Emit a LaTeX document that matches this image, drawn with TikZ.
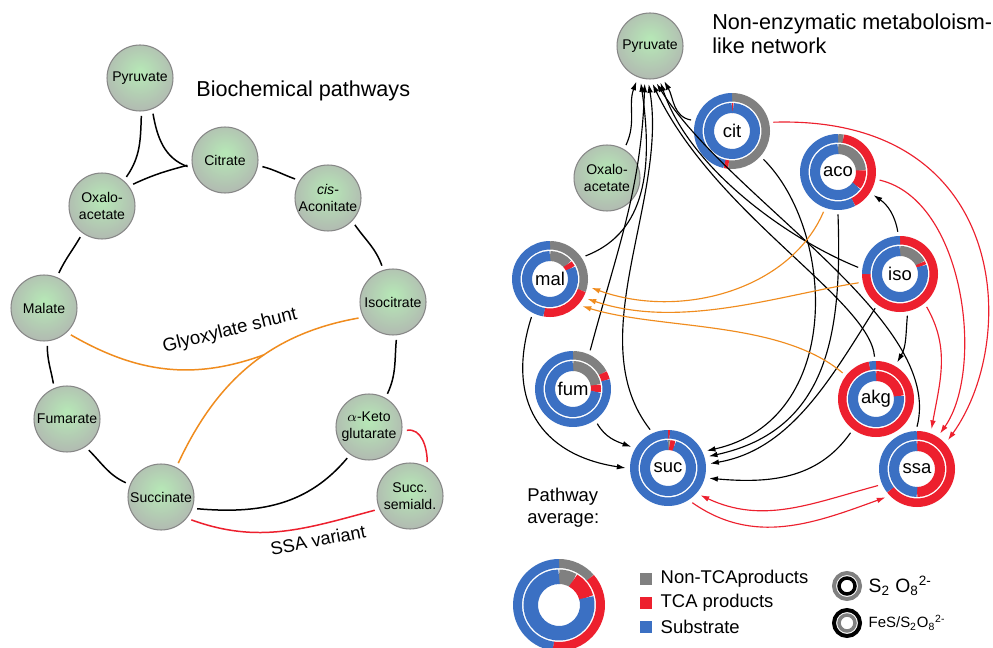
\documentclass[tikz,border=0pt]{standalone}
\usepackage{fontspec}
\setmainfont{Liberation Sans}
\usetikzlibrary{arrows.meta,positioning}
\definecolor{substrate}{RGB}{59,112,195}
\definecolor{tca}{RGB}{237,32,46}
\definecolor{nontca}{RGB}{128,128,128}
\definecolor{shunt}{RGB}{240,140,30}
\definecolor{ballgreen}{RGB}{182,230,182}
\definecolor{ballgrey}{RGB}{176,176,176}
\definecolor{ballrim}{RGB}{135,135,135}
\pgfdeclareradialshading{ballshade}{\pgfpoint{0bp}{5bp}}{color(0bp)=(ballgreen); color(2bp)=(ballgreen); color(34bp)=(ballgrey); color(70bp)=(ballgrey)}
% ring: node, inner r, outer r, end of grey, end of red (degrees clockwise from top)
\newcommand{\ring}[5]{%
\draw[line width={(#3-#2)*0.02cm}, nontca] (#1.center) ++(90:{(#2+#3)/2}) arc[start angle=90, end angle={90-#4}, radius={(#2+#3)/2}];
\draw[line width={(#3-#2)*0.02cm}, tca] (#1.center) ++({90-#4}:{(#2+#3)/2}) arc[start angle={90-#4}, end angle={90-#5}, radius={(#2+#3)/2}];
\draw[line width={(#3-#2)*0.02cm}, substrate] (#1.center) ++({90-#5}:{(#2+#3)/2}) arc[start angle={90-#5}, end angle=-270, radius={(#2+#3)/2}];}
\newcommand{\donut}[5]{\ring{#1}{29.5}{38}{#2}{#3}\ring{#1}{18}{28}{#4}{#5}}

\begin{document}
\begin{tikzpicture}[x=0.02cm, y=0.02cm,
  ball/.style={circle, draw=ballrim, line width=0.6pt, shade, shading=ballshade, minimum size=1.32cm, inner sep=0pt, outer sep=0.1cm, align=center, font=\fontsize{8}{9.6}\selectfont},
  donut/.style={circle, minimum size=1.68cm, inner sep=0pt, font=\fontsize{10.5}{12}\selectfont},
  link/.style={line width=0.85pt},
  flow/.style={line width=0.65pt, -{Latex[length=5pt,width=3.2pt]}},
  title/.style={inner sep=0pt, align=left, font=\fontsize{12.3}{14.2}\selectfont},
  key/.style={inner sep=0pt, font=\fontsize{10.5}{12.5}\selectfont}]
\path[use as bounding box, fill=white] (0,0) rectangle (993,-648);

% biochemical pathways
\node[ball] (lpyr) at (140,-78) {Pyruvate};
\node[ball] (lcit) at (225,-160) {Citrate};
\node[ball] (loxa) at (102,-206) {Oxalo-\\acetate};
\node[ball] (laco) at (328,-198) {\textit{cis}-\\Aconitate};
\node[ball] (lmal) at (44,-308) {Malate};
\node[ball] (liso) at (393,-302) {Isocitrate};
\node[ball] (lfum) at (67,-419) {Fumarate};
\node[ball] (lakg) at (369,-427) {$\alpha$-Keto\\glutarate};
\node[ball] (lsuc) at (161,-497) {Succinate};
\node[ball] (lssa) at (410,-496) {Succ.\\semiald.};
\node[title, anchor=base west] (ltitle) at (196,-97) {Biochemical pathways};

\draw[link] (lpyr.-88) to[out=-92,in=55] (loxa.50);
\draw[link] (lpyr.-70) to[out=-80,in=160] (lcit.190);
\draw[link] (loxa.35) to[out=25,in=195] (lcit.188);
\draw[link] (lcit.-10) to[out=-15,in=160] (laco.150);
\draw[link] (laco.-45) to[out=-55,in=110] (liso.107);
\draw[link] (loxa.-125) to[out=-120,in=65] (lmal.67);
\draw[link] (lmal.-85) to[out=-90,in=100] (lfum.111);
\draw[link] (lfum.-55) to[out=-45,in=155] (lsuc.158);
\draw[link] (liso.-85) to[out=-95,in=65] (lakg.61);
\draw[link] (lsuc.-18) to[out=-5,in=-130] (lakg.-125);
\draw[link, tca] (lakg.-5) to[out=10,in=90] (lssa.63);
\draw[link, tca] (lsuc.-37) to[out=-20,in=195] (lssa.202);
\draw[link, shunt] (lsuc.63) to[out=65,in=190] coordinate[pos=0.58] (glx) (liso.205);
\draw[link, shunt] (lmal.-45) to[out=-30,in=200] (glx);
\node[rotate=14, font=\fontsize{10.6}{12}\selectfont] (glxlabel) at (230,-331) {Glyoxylate shunt};
\node[rotate=11, font=\fontsize{10.4}{12}\selectfont] (ssalabel) at (318,-540) {SSA variant};

% non-enzymatic network
\node[ball] (rpyr) at (650,-46) {Pyruvate};
\node[ball] (roxa) at (607,-178) {Oxalo-\\acetate};
\node[title, anchor=base west] (rtitle) at (712,-54) {Non-enzymatic metaboloism-\\like network};
\node[donut] (cit) at (732,-131) {cit};
\node[donut] (aco) at (838,-172) {aco};
\node[donut] (iso) at (900,-274) {iso};
\node[donut] (mal) at (550,-279) {mal};
\node[donut] (fum) at (573,-389) {fum};
\node[donut] (suc) at (668,-468) {suc};
\node[donut] (akg) at (876,-399) {akg};
\node[donut] (ssa) at (917,-469) {ssa};
\donut{cit}{186}{193}{0}{3}
\donut{aco}{9}{153}{86}{127}
\donut{iso}{0}{270}{62}{70}
\donut{mal}{110}{190}{50}{63}
\donut{fum}{62}{75}{80}{97}
\donut{suc}{0}{3}{4}{16}
\donut{akg}{0}{349}{0}{83}
\donut{ssa}{0}{232}{0}{180}

\draw[flow] (roxa.60) to[out=65,in=-110] (rpyr.-111);
\draw[flow] (mal.33) .. controls (640,-235) and (655,-180) .. (rpyr.-104);
\draw[flow] (fum.66) to[out=75,in=-92] (rpyr.-98);
\draw[flow] (suc.115) .. controls (580,-340) and (668,-200) .. (rpyr.-92);
\draw[flow] (akg.92) .. controls (870,-300) and (715,-215) .. (rpyr.-86);
\draw[flow] (ssa.90) .. controls (945,-320) and (730,-200) .. (rpyr.-80);
\draw[flow] (iso.171) .. controls (790,-240) and (690,-170) .. (rpyr.-74);
\draw[flow] (cit.165) to[out=170,in=-60] (rpyr.-68);

\draw[flow] (cit.-42) .. controls (835,-230) and (845,-420) .. (suc.24);
\draw[flow] (aco.-90) .. controls (842,-330) and (830,-430) .. (suc.16);
\draw[flow] (iso.-126) .. controls (830,-380) and (790,-450) .. (suc.6);
\draw[flow] (akg.-127) to[out=-125,in=-5] (suc.-14);
\draw[flow] (fum.-55) to[out=-60,in=160] (suc.150);
\draw[flow] (mal.-116) .. controls (505,-400) and (540,-455) .. (suc.180);
\draw[flow] (iso.93) to[out=100,in=-35] (aco.-33);
\draw[flow] (iso.-80) to[out=-95,in=60] (akg.60);

\draw[flow, shunt] (aco.-110) .. controls (790,-290) and (680,-320) .. (mal.-12);
\draw[flow, shunt] (iso.192) .. controls (780,-295) and (680,-330) .. (mal.-28);
\draw[flow, shunt] (akg.142) .. controls (780,-320) and (660,-330) .. (mal.-40);

\draw[flow, tca] (cit.12) .. controls (1010,-115) and (1020,-340) .. (ssa.43);
\draw[flow, tca] (aco.-11) .. controls (965,-200) and (985,-370) .. (ssa.57);
\draw[flow, tca] (iso.-51) to[out=-60,in=80] (ssa.70);
\draw[flow, tca] (ssa.203) to[out=195,in=-25] (suc.-40);
\draw[flow, tca] (suc.-55) to[out=-35,in=200] (ssa.222);

% legend
\node[key, align=left, anchor=base west] (avgtitle) at (527,-523) {Pathway\\average:};
\node[circle, minimum size=1.84cm, inner sep=0pt] (avg) at (559,-605) {};
\ring{avg}{37}{46}{49}{188}
\ring{avg}{21}{35.5}{30}{75}
\node[fill=nontca, minimum size=0.24cm, inner sep=0pt] (knon) at (646,-579) {};
\node[fill=tca, minimum size=0.24cm, inner sep=0pt] (ktca) at (646,-603) {};
\node[fill=substrate, minimum size=0.24cm, inner sep=0pt] (ksub) at (646,-627) {};
\node[key, right=0.16cm of knon] (tnon) {Non-TCAproducts};
\node[key, right=0.16cm of ktca] (ttca) {TCA products};
\node[key, right=0.16cm of ksub] (tsub) {Substrate};
\node[circle, minimum size=0.6cm, inner sep=0pt] (kper) at (847,-586) {};
\draw[nontca, line width=0.08cm] (kper) circle[radius=13];
\draw[black, line width=0.07cm] (kper) circle[radius=8];
\node[circle, minimum size=0.6cm, inner sep=0pt] (kfes) at (847,-623) {};
\draw[black, line width=0.08cm] (kfes) circle[radius=13];
\draw[nontca, line width=0.07cm] (kfes) circle[radius=8];
\node[inner sep=0pt, right=0.12cm of kper, font=\fontsize{11}{13}\selectfont] (tper) {S\textsubscript{2} O\textsubscript{8}\textsuperscript{2-}};
\node[inner sep=0pt, right=0.12cm of kfes, font=\fontsize{8.5}{10}\selectfont] (tfes) {FeS/S\textsubscript{2}O\textsubscript{8}\textsuperscript{2-}};
\end{tikzpicture}
\end{document}
